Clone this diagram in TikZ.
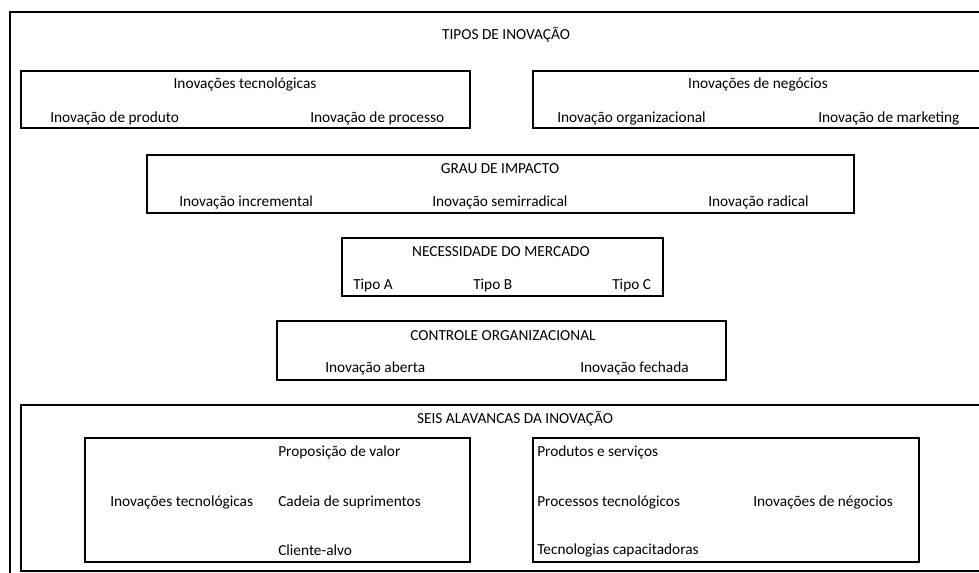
\documentclass[tikz,border=0pt]{standalone}
\usepackage{fontspec}
\setmainfont{Carlito}
\begin{document}
\begin{tikzpicture}[x=0.75pt,y=-0.75pt,
  frame/.style={line width=1.5pt,draw=black},
  lbl/.style={inner sep=0pt,font=\fontsize{11.5}{13}\selectfont,text=black},
  lw/.style={lbl,anchor=west},
  lc/.style={lbl,anchor=center}]
\useasboundingbox (0,0) rectangle (979,573);
\clip (0,0) rectangle (979,573);
\fill[white] (0,0) rectangle (979,573);
% boxes
\draw[frame] (10,12) rectangle (995,595);
\draw[frame] (21,71) rectangle (470,128);
\draw[frame] (533,71) rectangle (995,128);
\draw[frame] (147,155) rectangle (854,213);
\draw[frame] (342,238) rectangle (663,296);
\draw[frame] (277,321) rectangle (726,380);
\draw[frame] (21,405) rectangle (995,571);
\draw[frame] (85,438) rectangle (470,562);
\draw[frame] (533,438) rectangle (919,562);
% texts
\node[lc] (tipos) at (506,35) {TIPOS DE INOVAÇÃO};
\node[lc] (tec) at (245,84) {Inovações tecnológicas};
\node[lw] (prod) at (50,118) {Inovação de produto};
\node[lw] (proc) at (310,118) {Inovação de processo};
\node[lc] (neg) at (758,84) {Inovações de negócios};
\node[lw] (org) at (557,118) {Inovação organizacional};
\node[lw] (mkt) at (818,118) {Inovação de marketing};
\node[lc] (grau) at (500,169) {GRAU DE IMPACTO};
\node[lw] (incr) at (179,202) {Inovação incremental};
\node[lw] (semi) at (432,202) {Inovação semirradical};
\node[lw] (rad) at (708,202) {Inovação radical};
\node[lc] (nec) at (501,252) {NECESSIDADE DO MERCADO};
\node[lw] (ta) at (353,285) {Tipo A};
\node[lw] (tb) at (473,285) {Tipo B};
\node[lw] (tcc) at (612,285) {Tipo C};
\node[lc] (ctrl) at (503,336) {CONTROLE ORGANIZACIONAL};
\node[lw] (ab) at (325,368) {Inovação aberta};
\node[lw] (fe) at (580,368) {Inovação fechada};
\node[lc] (seis) at (515,419) {SEIS ALAVANCAS DA INOVAÇÃO};
\node[lw] (itec) at (110,502) {Inovações tecnológicas};
\node[lw] (pv) at (278,452) {Proposição de valor};
\node[lw] (cs) at (278,502) {Cadeia de suprimentos};
\node[lw] (ca) at (278,550) {Cliente-alvo};
\node[lw] (ps) at (537,452) {Produtos e serviços};
\node[lw] (pt) at (537,502) {Processos tecnológicos};
\node[lw] (tcap) at (537,550) {Tecnologias capacitadoras};
\node[lw] (ineg) at (753,502) {Inovações de négocios};
\end{tikzpicture}
\end{document}
